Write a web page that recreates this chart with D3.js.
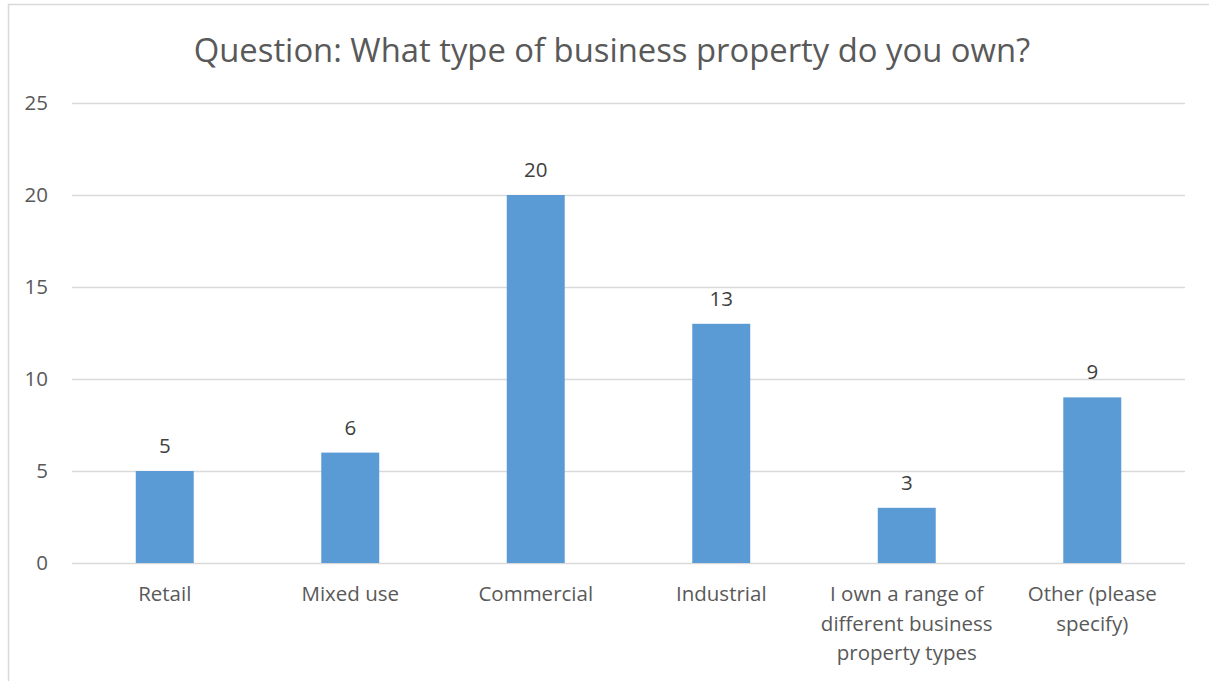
<!DOCTYPE html>
<html>
<head>
<meta charset="utf-8">
<script src="https://cdn.jsdelivr.net/npm/d3@7"></script>
<style>
  html, body { margin: 0; padding: 0; background: #fff; }
  svg { display: block; font-family: "Open Sans", sans-serif; }
</style>
</head>
<body>
<svg id="chart" width="1209" height="681"></svg>
<script>
// Survey responses: business property ownership
const categories = [
  ["Retail"],
  ["Mixed use"],
  ["Commercial"],
  ["Industrial"],
  ["I own a range of", "different business", "property types"],
  ["Other (please", "specify)"]
];
const counts = [5, 6, 20, 13, 3, 9];
const yTicks = [0, 5, 10, 15, 20, 25];
const title = "Question: What type of business property do you own?";

const W = 1209, H = 681;
const margin = { left: 72, right: 24, top: 103, bottom: 118 };
const textColor = "#595959";
const gridColor = "#d9d9d9";
const barColor = "#5b9bd5";

const svg = d3.select("#chart");

// outer chart frame
svg.append("rect")
  .attr("x", 8.5).attr("y", 4.5)
  .attr("width", W + 20).attr("height", H + 20)
  .attr("fill", "none").attr("stroke", gridColor).attr("stroke-width", 1.5);

const x = d3.scaleBand()
  .domain(d3.range(categories.length))
  .range([margin.left, W - margin.right])
  .paddingInner(0.6875)
  .paddingOuter(0.34375);

const y = d3.scaleLinear()
  .domain([0, 25])
  .range([563, 103]);

// horizontal gridlines + y labels
const yAxis = d3.axisLeft(y)
  .tickValues(yTicks)
  .tickSize(-(W - margin.right - margin.left))
  .tickPadding(24);

const gy = svg.append("g")
  .attr("transform", `translate(${margin.left},0)`)
  .call(yAxis);
gy.select(".domain").remove();
gy.selectAll(".tick line").attr("stroke", gridColor).attr("stroke-width", 1.5);
gy.selectAll(".tick text")
  .attr("fill", textColor)
  .style("font-size", "20.5px")
  .style("font-family", "'Open Sans', sans-serif");

// bars
svg.append("g").selectAll("rect")
  .data(counts)
  .join("rect")
  .attr("x", (d, i) => x(i))
  .attr("y", d => y(d))
  .attr("width", x.bandwidth())
  .attr("height", d => y(0) - y(d))
  .attr("fill", barColor);

// value labels
svg.append("g").selectAll("text")
  .data(counts)
  .join("text")
  .attr("x", (d, i) => x(i) + x.bandwidth() / 2)
  .attr("y", d => y(d) - 18)
  .attr("text-anchor", "middle")
  .attr("fill", "#404040")
  .style("font-size", "20.5px")
  .text(d => d);

// category labels (wrapped)
const cat = svg.append("g").selectAll("text")
  .data(categories)
  .join("text")
  .attr("text-anchor", "middle")
  .attr("fill", textColor)
  .style("font-size", "20.5px")
  .attr("transform", (d, i) => `translate(${x(i) + x.bandwidth() / 2},0)`);
cat.selectAll("tspan")
  .data(d => d)
  .join("tspan")
  .attr("x", 0)
  .attr("y", (d, j) => 601 + j * 29.5)
  .text(d => d);

// title
svg.append("text")
  .attr("x", 612)
  .attr("y", 62)
  .attr("text-anchor", "middle")
  .attr("fill", textColor)
  .style("font-size", "32.8px")
  .text(title);
</script>
</body>
</html>
